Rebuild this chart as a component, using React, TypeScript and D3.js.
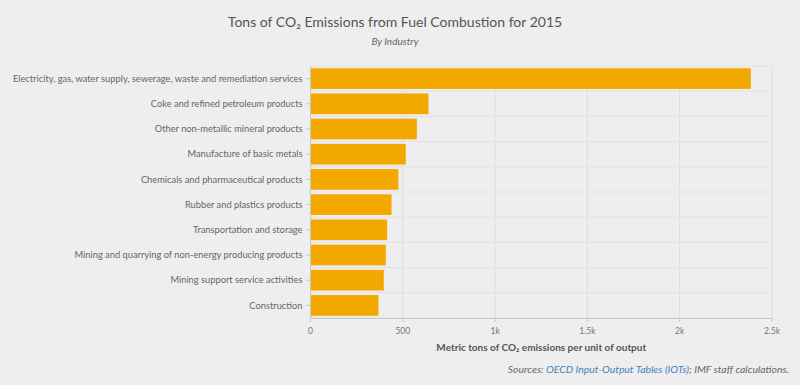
import React, { useEffect, useRef } from "react";
import * as d3 from "d3";

const categories = [
  "Electricity, gas, water supply, sewerage, waste and remediation services",
  "Coke and refined petroleum products",
  "Other non-metallic mineral products",
  "Manufacture of basic metals",
  "Chemicals and pharmaceutical products",
  "Rubber and plastics products",
  "Transportation and storage",
  "Mining and quarrying of non-energy producing products",
  "Mining support service activities",
  "Construction",
];
const values = [2385, 639, 576, 516, 476, 439, 415, 408, 397, 368];
const xTicks = [0, 500, 1000, 1500, 2000, 2500];
const xTickLabels = ["0", "500", "1k", "1.5k", "2k", "2.5k"];

const W = 800;
const H = 385;
const FONT = "Lato, 'Open Sans', sans-serif";

export default function App() {
  const ref = useRef<SVGSVGElement>(null);
  useEffect(() => {
    const svg = d3.select(ref.current);
    svg.selectAll("*").remove();
    const left = 310.5, right = 772, top = 66, bottom = 318;
    const x = d3.scaleLinear().domain([0, 2500]).range([left, right]);
    const y = d3.scaleBand().domain(categories).range([top, bottom]).paddingInner(0.18).paddingOuter(0.09);

    svg.append("rect").attr("width", W).attr("height", H).attr("fill", "#eeeeee");

    // title
    svg.append("text").attr("x", 395).attr("y", 27).attr("text-anchor", "middle")
      .attr("font-family", FONT).attr("font-size", 14).attr("fill", "#555").attr("font-weight", 400)
      .text("Tons of CO\u2082 Emissions from Fuel Combustion for 2015");
    svg.append("text").attr("x", 395).attr("y", 45).attr("text-anchor", "middle")
      .attr("font-family", FONT).attr("font-size", 10).attr("font-style", "italic").attr("fill", "#666")
      .text("By Industry");

    const g = svg.append("g");
    // vertical gridlines
    g.selectAll("line.vg").data(xTicks).join("line")
      .attr("x1", d => x(d)).attr("x2", d => x(d)).attr("y1", top).attr("y2", bottom)
      .attr("stroke", "#dcdcdc").attr("stroke-width", 1);
    // horizontal band boundaries
    const step = y.step();
    const bounds = d3.range(categories.length + 1).map(i => top + i * step);
    g.selectAll("line.hg").data(bounds).join("line")
      .attr("x1", left).attr("x2", right).attr("y1", d => d).attr("y2", d => d)
      .attr("stroke", "#e2e2e2").attr("stroke-width", 1);

    // bars
    g.selectAll("rect.bar").data(values).join("rect")
      .attr("x", x(0)).attr("y", (d, i) => y(categories[i])!)
      .attr("width", d => x(d) - x(0)).attr("height", y.bandwidth())
      .attr("fill", "#f3a800");

    // axes lines
    g.append("line").attr("x1", left).attr("x2", right).attr("y1", bottom + 0.5).attr("y2", bottom + 0.5)
      .attr("stroke", "#c8c8c8");
    g.append("line").attr("x1", left).attr("x2", left).attr("y1", top).attr("y2", bottom)
      .attr("stroke", "#c8c8c8");

    // y ticks and labels
    categories.forEach((c, i) => {
      const cy = y(c)! + y.bandwidth() / 2;
      g.append("line").attr("x1", left - 5).attr("x2", left).attr("y1", cy).attr("y2", cy).attr("stroke", "#c8c8c8");
      g.append("text").attr("x", left - 8).attr("y", cy).attr("dy", "0.35em").attr("text-anchor", "end")
        .attr("font-family", FONT).attr("font-size", 9.3).attr("fill", "#666").text(c);
    });

    // x ticks
    xTicks.forEach((t, i) => {
      g.append("line").attr("x1", x(t)).attr("x2", x(t)).attr("y1", bottom).attr("y2", bottom + 4).attr("stroke", "#c8c8c8");
      g.append("text").attr("x", x(t)).attr("y", bottom + 16).attr("text-anchor", "middle")
        .attr("font-family", FONT).attr("font-size", 8.5).attr("fill", "#777").text(xTickLabels[i]);
    });

    svg.append("text").attr("x", (left + right) / 2).attr("y", 351).attr("text-anchor", "middle")
      .attr("font-family", FONT).attr("font-size", 10).attr("font-weight", 700).attr("fill", "#555")
      .text("Metric tons of CO\u2082 emissions per unit of output");

    const src = svg.append("text").attr("x", 789).attr("y", 373).attr("text-anchor", "end")
      .attr("font-family", FONT).attr("font-size", 10.4).attr("font-style", "italic").attr("fill", "#666");
    src.append("tspan").text("Sources: ");
    src.append("tspan").attr("fill", "#3d82c4").text("OECD Input-Output Tables (IOTs)");
    src.append("tspan").text("; IMF staff calculations.");
  }, []);
  return (
    <svg ref={ref} width={W} height={H} style={{ position: "absolute", left: 0, top: 0, display: "block" }} />
  );
}
